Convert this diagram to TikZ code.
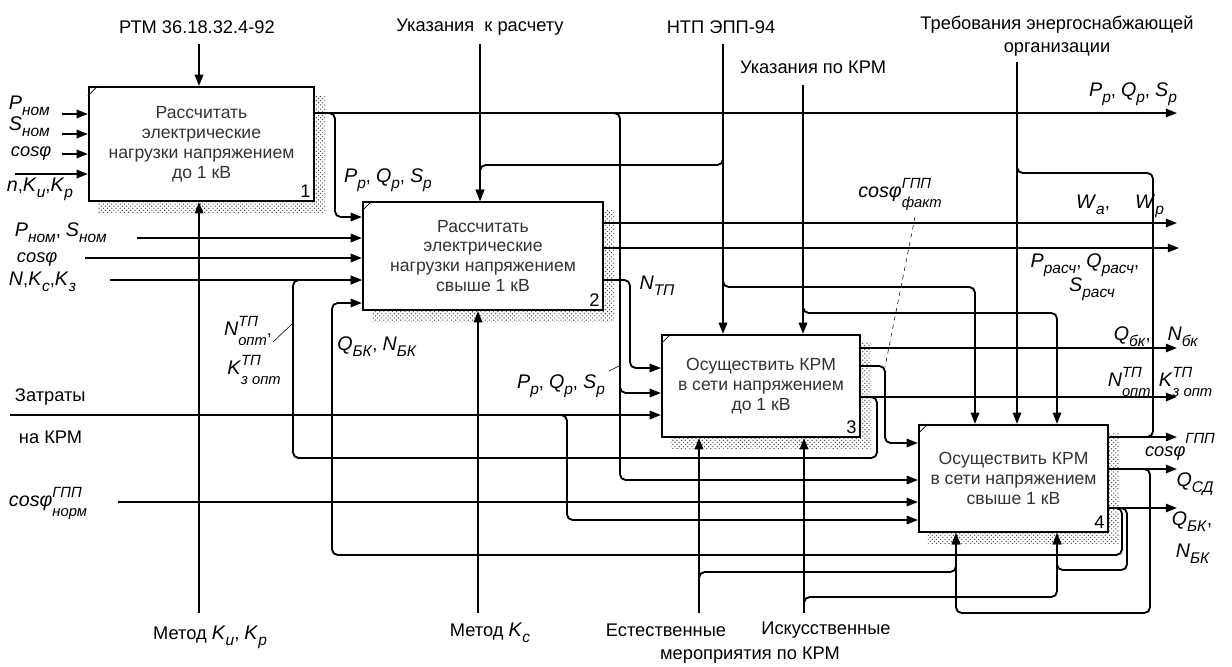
\documentclass[tikz,border=0pt]{standalone}
\usepackage{fontspec}
\setmainfont{Liberation Sans}
\usetikzlibrary{arrows.meta,positioning,calc,patterns,backgrounds}

\newcommand{\vr}[2]{{\fontsize{14}{16}\selectfont\textit{#1}}\raisebox{-0.6ex}{\fontsize{11}{12}\selectfont\textit{#2}}}
\newcommand{\vrs}[3]{{\fontsize{14}{16}\selectfont\textit{#1}}\raisebox{-0.1ex}{\fontsize{10.5}{11}\selectfont\begin{tabular}{@{}l@{}}\textit{#3}\\[2pt]\textit{#2}\end{tabular}}}
\newcommand{\cosf}{{\fontsize{13}{15}\selectfont\textit{cosφ}}}

\begin{document}
\begin{tikzpicture}[
		x=0.025cm, y=-0.025cm,
		font=\fontsize{13}{16}\selectfont,
		box/.style={draw, line width=1.5pt, fill=white, align=center, inner sep=0pt,
			text=black!80, font=\fontsize{12.5}{14.2}\selectfont},
		arr/.style={line width=1.3pt, -{Triangle[length=8pt,width=6pt]}},
		ln/.style={line width=1.3pt},
		rc/.style={rounded corners=4pt},
		lead/.style={thin},
		hatch/.style={pattern=crosshatch dots, pattern color=black!70}
		]
		
		\useasboundingbox (0,0) rectangle (1232,666);
		
		% activity boxes
		\node[
		box,
		minimum width=5.625cm,
		minimum height=2.85cm,
		label={[anchor=south east, inner sep=3pt]south east:1}
		]
		(b1)
		at (201.5,144)
		{Рассчитать\\электрические\\нагрузки напряжением\\до 1 кВ};
		
		\node[
		box,
		minimum width=6cm,
		minimum height=2.7cm,
		label={[anchor=south east, inner sep=3pt]south east:2}
		]
		(b2)
		at (483,256)
		{Рассчитать\\электрические\\нагрузки напряжением\\свыше 1 кВ};
		
		\node[
		box,
		minimum width=4.95cm,
		minimum height=2.55cm,
		label={[anchor=south east, inner sep=3pt]south east:3}
		]
		(b3)
		at (761,386)
		{Осуществить КРМ\\в сети напряжением\\до 1 кВ};
		
		\node[
		box,
		minimum width=4.725cm,
		minimum height=2.675cm,
		label={[anchor=south east, inner sep=3pt]south east:4}
		]
		(b4)
		at (1013.5,478.5)
		{Осуществить КРМ\\в сети напряжением\\свыше 1 кВ};
		
		\begin{scope}[on background layer]
			\foreach \b in {b1,b2,b3,b4}
			\fill[hatch] ([shift={(10,10)}]\b.north west) rectangle ([shift={(10,10)}]\b.south east);
		\end{scope}
		\foreach \b in {b1,b2,b3,b4}
		\draw[thin] ($(\b.north west)+(0,10)$) -- ($(\b.north west)+(10,0)$);
		
		% free ends
		\coordinate (c1a) at (62,114);
		\coordinate (c1b) at (62,134);
		\coordinate (c1c) at (62,154);
		\coordinate (c1d) at (15,174);
		\coordinate (c2a) at (137,238);
		\coordinate (c2b) at (85,258);
		\coordinate (c2c) at (110,280);
		\coordinate (zat) at (10,415);
		\coordinate (cnorm) at (118,502);
		\coordinate (k1) at (199,44);
		\coordinate (k2) at (480,44);
		\coordinate (k3) at (723,44);
		\coordinate (k4) at (803,85);
		\coordinate (k5) at (1017,62);
		\coordinate (m1) at (199,613);
		\coordinate (m2) at (478,613);
		\coordinate (m3a) at (699,613);
		\coordinate (m3b) at (804,613);
		\coordinate (o1) at (1177,113);
		\coordinate (o2) at (1177,223);
		\coordinate (o3) at (1179,248);
		\coordinate (o4) at (1177,348);
		\coordinate (o5) at (1177,397);
		\coordinate (o6) at (1177,437);
		\coordinate (o7) at (1177,469);
		\coordinate (o8) at (1177,508);
		
		% inputs
		\draw[arr] (c1a) -- (b1.west |- c1a);
		\draw[arr] (c1b) -- (b1.west |- c1b);
		\draw[arr] (c1c) -- (b1.west |- c1c);
		\draw[arr] (c1d) -- (b1.west |- c1d);
		\draw[arr] (c2a) -- (b2.west |- c2a);
		\draw[arr] (c2b) -- (b2.west |- c2b);
		\draw[arr] (c2c) -- (b2.west |- c2c);
		\draw[arr] (zat) -- (b3.west |- zat);
		\draw[arr] (cnorm) -- (b4.west |- cnorm);
		
		% controls and mechanisms
		\draw[arr] (k1) -- (b1.north -| k1);
		\draw[arr] (k2) -- (b2.north -| k2);
		\draw[arr] (k3) -- (b3.north -| k3);
		\draw[arr] (k4) -- (b3.north -| k4);
		\draw[arr] (k5) -- (b4.north -| k5);
		\draw[arr] (m1) -- (b1.south -| m1);
		\draw[arr] (m2) -- (b2.south -| m2);
		\draw[arr] (m3a) -- (b3.south -| m3a);
		\draw[arr] (m3b) -- (b3.south -| m3b);
		\draw[arr,rc] (k3 |- 0,150) |- (480,165) -- (b2.north -| k2);
		\draw[arr,rc] (k3 |- 0,270) |- (975,287) -- (b4.north -| 975,0);
		\draw[arr,rc] (k4 |- 0,295) |- (1057,313) -- (b4.north -| 1057,0);
		\draw[ln,rc] (k5 |- 0,155) |- (1153,173) |- (1135,437);
		\draw[arr,rc] (m3a |- 0,590) |- (956,572) -- (b4.south -| 956,0);
		\draw[arr,rc] (m3b |- 0,610) |- (1057,597) -- (b4.south -| 1057,0);
		
		% outputs
		\draw[arr] (b1.east |- o1) -- (o1);
		\draw[arr,rc] (b1.east |- o1) -| (335,217) -- (b2.west |- 0,217);
		\draw[arr,rc] (b1.east |- o1) -| (620,480) -- (b4.west |- 0,480);
		\draw[arr,rc] (620,375) |- (b3.west |- 0,393);
		\draw[arr] (b2.east |- o2) -- (o2);
		\draw[arr] (b2.east |- o3) -- (o3);
		\draw[arr,rc] (b2.east |- 0,280) -| (630,368) -- (b3.west |- 0,368);
		\draw[arr,rc] (555,415) -| (567,520) -- (b4.west |- 0,520);
		\draw[arr] (b3.east |- o4) -- (o4);
		\draw[arr,rc] (b3.east |- 0,366) -| (885,443) -- (b4.west |- 0,443);
		\draw[arr] (b3.east |- o5) -- (o5);
		\draw[arr,rc] (b3.east |- o5) -| (877,458) -| (293,280) -- (b2.west |- c2c);
		\draw[arr] (b4.east |- o6) -- (o6);
		\draw[arr] (b4.east |- o7) -- (o7);
		\draw[arr] (b4.east |- o8) -- (o8);
		\draw[arr,rc] (b4.east |- o7) -| (1150,613) -| (b4.south -| 956,0);
		\draw[arr,rc] (b4.east |- o8) -| (1127,570) -| (b4.south -| 1057,0);
		\draw[arr,rc] (b4.east |- o8) -| (1122,555) -| (332,303) -- (b2.west |- 0,303);
		
		% top labels
		\node (lRTM) at (197,27) {РТМ 36.18.32.4-92};
		\node (lUk) at (480,27) {Указания\ \ к расчету};
		\node (lNTP) at (721,27) {НТП ЭПП-94};
		\node (lUkK) at (813,67) {Указания по КРМ};
		\node[align=center] (lTr) at (1057,36) {Требования энергоснабжающей\\организации};
		
		% left labels
		\node[anchor=west] (lP1) at (4,106) {\vr{P}{ном}};
		\node[anchor=west] (lS1) at (4,127) {\vr{S}{ном}};
		\node[anchor=west] (lcos1) at (6,153) {\cosf};
		\node[anchor=west] (lnK) at (2,189) {\vr{n}{},\vr{K}{u},\vr{K}{p}};
		\node[anchor=west] (lPS2) at (10,233) {\vr{P}{ном}, \vr{S}{ном}};
		\node[anchor=west] (lcos2) at (12,259) {\cosf};
		\node[anchor=west] (lNK) at (4,282) {\vr{N}{},\vr{K}{c},\vr{K}{з}};
		\node[anchor=west] (lzat1) at (10,397) {Затраты};
		\node[anchor=west] (lzat2) at (14,437) {на КРМ};
		\node[anchor=west] (lnorm) at (4,504) {\vrs{cosφ}{норм}{ГПП}};
		
		% inner labels
		\node (lNopt) at (248,333) {\vrs{N}{опт}{ТП},};
		\node (lKopt) at (254,372) {\vrs{K}{з опт}{ТП}};
		\node (lQbk2) at (377,347) {\vr{Q}{БК}, \vr{N}{БК}};
		\node (lPp1) at (388,180) {\vr{P}{p}, \vr{Q}{p}, \vr{S}{p}};
		\node (lNtp) at (657,286) {\vr{N}{ТП}};
		\node (lPp3) at (561,386) {\vr{P}{p}, \vr{Q}{p}, \vr{S}{p}};
		\node (lfakt) at (900,195) {\vrs{cosφ}{факт}{ГПП}};
		\draw[lead] (273,342) -- (293,323);
		\draw[lead] (609,371) -- (621,365);
		\draw[lead, dashed] (915,217) -- (885,367);
		
		% right labels
		\node (lPp0) at (1133,94) {\vr{P}{p}, \vr{Q}{p}, \vr{S}{p}};
		\node (lW) at (1120,206) {\vr{W}{a},\hspace{18pt}\vr{W}{p}};
		\node (lPr) at (1085,265) {\vr{P}{расч}, \vr{Q}{расч},};
		\node (lSr) at (1092,289) {\vr{S}{расч}};
		\node (lQbk) at (1156,337) {\vr{Q}{бк},\hspace{12pt}\vr{N}{бк}};
		\node (lNK4) at (1160,384) {\vrs{N}{опт}{ТП},\,\vrs{K}{з опт}{ТП}};
		\node (lcosG) at (1180,447) {\cosf\raisebox{1.3ex}{\fontsize{10.5}{11}\selectfont\textit{ГПП}}};
		\node (lQsd) at (1195,484) {\vr{Q}{СД}};
		\node (lQbk4) at (1192,522) {\vr{Q}{БК},};
		\node (lNbk4) at (1193,554) {\vr{N}{БК}};
		
		% bottom labels
		\node (lM1) at (210,637) {Метод \vr{K}{u}, \vr{K}{p}};
		\node (lM2) at (490,633) {Метод \vr{K}{c}};
		\node (lEst) at (666,630) {Естественные};
		\node (lIsk) at (826,630) {Искусственные};
		\node (lMer) at (750,655) {мероприятия по КРМ};
		
	\end{tikzpicture}
\end{document}
